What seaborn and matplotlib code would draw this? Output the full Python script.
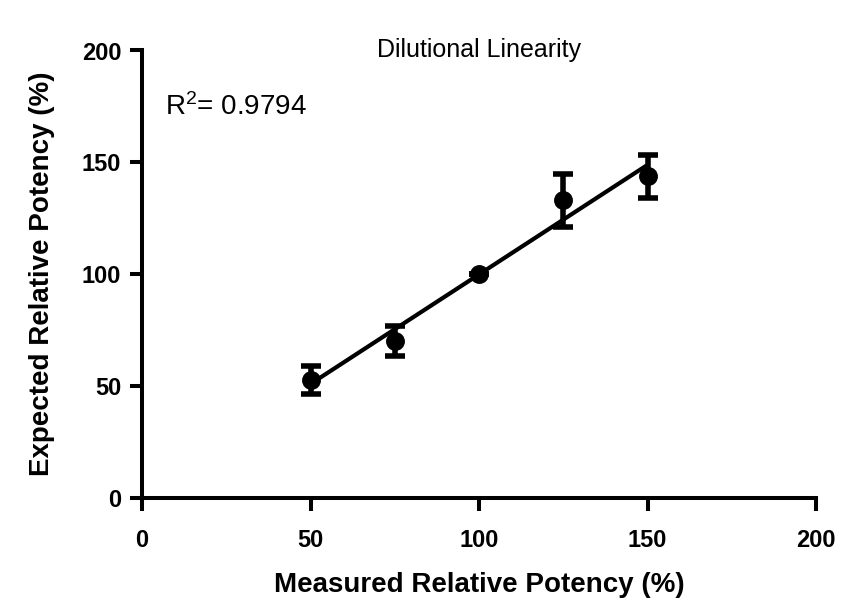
import numpy as np
import pandas as pd
import matplotlib
matplotlib.use("Agg")
import matplotlib.pyplot as plt
import seaborn as sns

measured = [50, 75, 100, 125, 150]
expected = [52.7, 70.2, 100.0, 133.0, 143.7]
error = [6.3, 6.7, 0.0, 11.8, 9.8]
r2_label = "R$^{2}$= 0.9794"
title = "Dilutional Linearity"
xlabel = "Measured Relative Potency (%)"
ylabel = "Expected Relative Potency (%)"
ticks = [0, 50, 100, 150, 200]

df = pd.DataFrame({"measured": measured, "expected": expected, "error": error})

sns.set_style("ticks")
plt.rcParams["font.family"] = ["Liberation Sans", "DejaVu Sans"]
plt.rcParams["mathtext.fontset"] = "custom"
plt.rcParams["mathtext.rm"] = "Liberation Sans"
plt.rcParams["mathtext.it"] = "Liberation Sans"
plt.rcParams["text.color"] = "black"
plt.rcParams["axes.labelcolor"] = "black"
plt.rcParams["xtick.color"] = "black"
plt.rcParams["ytick.color"] = "black"

fig = plt.figure(figsize=(8.61, 6.01), dpi=100)
ax = fig.add_axes([142 / 861, 1 - 498 / 601, (816 - 142) / 861, (498 - 50.5) / 601])

# regression line
slope, intercept = np.polyfit(df["measured"], df["expected"], 1)
xs = np.array([min(measured), max(measured)])
line_df = pd.DataFrame({"x": xs, "y": slope * xs + intercept})
sns.lineplot(data=line_df, x="x", y="y", ax=ax, color="black", linewidth=3.0, zorder=2)

ax.errorbar(df["measured"], df["expected"], yerr=df["error"], fmt="none",
            ecolor="black", elinewidth=4.0, capsize=7, capthick=4.0, zorder=3)
sns.scatterplot(data=df, x="measured", y="expected", ax=ax, color="black",
                s=185, edgecolor="black", linewidth=0, zorder=4)

ax.set_xlim(0, 200)
ax.set_ylim(0, 200)
ax.set_xticks(ticks)
ax.set_yticks(ticks)
ax.set_xticklabels([str(t) for t in ticks], fontsize=17, fontweight="bold")
ax.set_yticklabels([str(t) for t in ticks], fontsize=17, fontweight="bold")
ax.tick_params(axis="both", width=2.9, length=9, color="black", pad=6)
ax.tick_params(axis="x", pad=13)
for side in ["top", "right"]:
    ax.spines[side].set_visible(False)
for side in ["left", "bottom"]:
    ax.spines[side].set_linewidth(2.9)
    ax.spines[side].set_color("black")

ax.set_xlabel(xlabel, fontsize=20, fontweight="bold", labelpad=15)
ax.set_ylabel(ylabel, fontsize=20, fontweight="bold", labelpad=19)

ax.text(0.5, 0.9855, title, transform=ax.transAxes, ha="center", va="baseline",
        fontsize=18)
ax.text(6.8, 171.2, r2_label, ha="left", va="baseline", fontsize=20)

fig.savefig("out.png", dpi=100)
